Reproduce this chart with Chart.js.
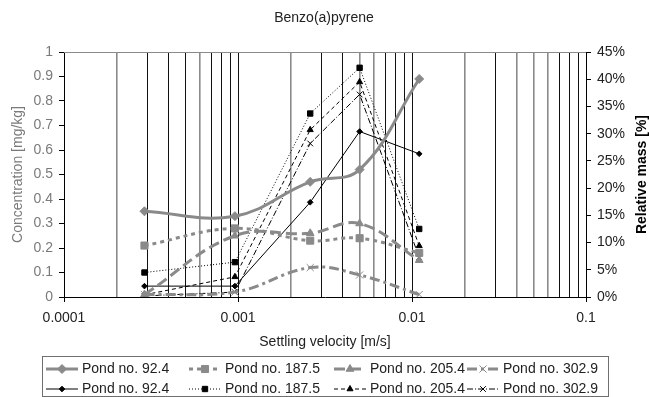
<!DOCTYPE html>
<html>
<head>
<meta charset="utf-8">
<script src="https://cdn.jsdelivr.net/npm/chart.js@4.4.1/dist/chart.umd.min.js"></script>
<style>
  html, body { margin: 0; padding: 0; background: #fff; }
  #wrap { width: 649px; height: 397px; position: relative; }
</style>
</head>
<body>
<div id="wrap"><canvas id="chart"></canvas></div>
<script>
// settling velocity of the fractions [m/s]
const velocity = [0.00029, 0.00096, 0.0026, 0.005, 0.011];
const ponds = ['Pond no. 92.4', 'Pond no. 187.5', 'Pond no. 205.4', 'Pond no. 302.9'];
const xLabels = ['0.0001', '0.001', '0.01', '0.1'];

// concentration [mg/kg] (left axis)
const conc_924  = [0.35, 0.33, 0.47, 0.52, 0.89];
const conc_1875 = [0.21, 0.28, 0.23, 0.24, 0.18];
const conc_2054 = [0.01, 0.25, 0.26, 0.30, 0.15];
const conc_3029 = [0.01, 0.02, 0.12, 0.09, 0.01];

// relative mass [%] (right axis)
const mass_924  = [2.0, 2.0, 17.4, 30.4, 26.3];
const mass_1875 = [4.5, 6.4, 33.7, 42.1, 12.5];
const mass_2054 = [0.4, 3.7, 30.7, 39.5, 9.4];
const mass_3029 = [0.2, 0.9, 28.2, 37.2, 7.3];

const FONT = '"Liberation Sans", Arial, sans-serif';
const GREY = '#8a8a8a';
const greyGrid = [0.0002, 0.0006, 0.002, 0.005, 0.006, 0.02, 0.04, 0.05, 0.06];

function pts(ys) {
  return velocity.map((v, i) => ({x: v, y: ys[i]}));
}
function isDecade(v) {
  const l = Math.log10(v);
  return Math.abs(l - Math.round(l)) < 1e-6;
}
function isGreyLine(v) {
  return greyGrid.some(g => Math.abs(g - v) / g < 1e-6);
}

function greySet(label, ys, style, radius, dash) {
  return {
    label: label, data: pts(ys), yAxisID: 'y',
    borderColor: GREY, backgroundColor: GREY, borderWidth: 3, borderDash: dash,
    pointStyle: style, pointRadius: radius, pointBorderWidth: 1,
    pointBackgroundColor: GREY, pointBorderColor: GREY, tension: 0.4
  };
}
function blackSet(label, ys, style, radius, dash) {
  return {
    label: label, data: pts(ys), yAxisID: 'y2',
    borderColor: '#000', backgroundColor: '#000', borderWidth: 1, borderDash: dash,
    pointStyle: style, pointRadius: radius, pointBorderWidth: 1,
    pointBackgroundColor: '#000', pointBorderColor: '#000', tension: 0
  };
}

const datasets = [
  greySet(ponds[0], conc_924, 'rectRot', 4.5, []),
  greySet(ponds[1], conc_1875, 'rect', 5, [4, 4]),
  greySet(ponds[2], conc_2054, 'triangle', 4.5, [11, 5]),
  greySet(ponds[3], conc_3029, 'crossRot', 5, [10, 4, 3, 4]),
  blackSet(ponds[0], mass_924, 'rectRot', 2.8, []),
  blackSet(ponds[1], mass_1875, 'rect', 3.8, [1, 2]),
  blackSet(ponds[2], mass_2054, 'triangle', 3.5, [4, 3]),
  blackSet(ponds[3], mass_3029, 'crossRot', 4, [6, 2, 1, 2])
];

const decor = {
  id: 'decor',
  beforeDatasetsDraw(chart) {
    const {ctx, chartArea: a} = chart;
    ctx.save();
    ctx.strokeStyle = GREY;
    ctx.lineWidth = 1;
    ctx.beginPath();
    ctx.moveTo(a.left, a.top + 0.5);
    ctx.lineTo(a.right, a.top + 0.5);
    ctx.stroke();
    ctx.restore();
  },
  afterDraw(chart) {
    const {ctx, chartArea: a} = chart;
    ctx.save();
    ctx.textBaseline = 'middle';
    ctx.textAlign = 'center';
    ctx.fillStyle = '#222';
    ctx.font = '14px ' + FONT;
    ctx.fillText('Benzo(a)pyrene', 324, 18);

    ctx.save();
    ctx.translate(642, (a.top + a.bottom) / 2);
    ctx.rotate(-Math.PI / 2);
    ctx.font = 'bold 14px ' + FONT;
    ctx.fillStyle = '#000';
    ctx.fillText('Relative mass [%]', 0, 0);
    ctx.restore();

    // legend
    const colX = [82, 225, 370, 503];
    const rowY = [369, 389];
    ctx.strokeStyle = '#6f6f6f';
    ctx.lineWidth = 1;
    ctx.strokeRect(42.5, 356.5, 566, 40);
    chart.data.datasets.forEach((ds, i) => {
      const tx = colX[i % 4], ty = rowY[Math.floor(i / 4)];
      ctx.save();
      ctx.strokeStyle = ds.borderColor;
      ctx.lineWidth = ds.borderWidth;
      ctx.setLineDash(ds.borderDash);
      ctx.beginPath();
      ctx.moveTo(tx - 36, ty);
      ctx.lineTo(tx - 4, ty);
      ctx.stroke();
      ctx.setLineDash([]);
      ctx.lineWidth = 1;
      ctx.fillStyle = ds.pointBackgroundColor;
      ctx.strokeStyle = ds.pointBorderColor;
      Chart.helpers.drawPoint(ctx, {pointStyle: ds.pointStyle, rotation: 0, radius: ds.pointRadius, borderWidth: 1}, tx - 20, ty);
      ctx.restore();
      ctx.textAlign = 'left';
      ctx.fillStyle = '#222';
      ctx.font = '14px ' + FONT;
      ctx.fillText(ds.label, tx, ty);
    });
    ctx.restore();
  }
};

new Chart(document.getElementById('chart'), {
  type: 'line',
  data: {datasets: datasets},
  plugins: [decor],
  options: {
    responsive: true,
    maintainAspectRatio: false,
    animation: false,
    layout: {padding: {top: 52, bottom: 46, left: 0, right: 0}},
    plugins: {legend: {display: false}, title: {display: false}, tooltip: {enabled: false}},
    scales: {
      x: {
        type: 'logarithmic',
        min: 0.0001, max: 0.1,
        afterBuildTicks(scale) {
          const t = [];
          for (let e = -4; e <= -2; e++) {
            for (let m = 1; m <= 9; m++) {
              t.push({value: parseFloat((m * Math.pow(10, e)).toPrecision(3))});
            }
          }
          t.push({value: 0.1});
          scale.ticks = t;
        },
        afterFit(scale) { scale.height = 54; },
        ticks: {
          autoSkip: false, maxRotation: 0, padding: 8, color: '#222',
          font: {family: FONT, size: 14},
          callback: v => {
            if (!isDecade(v)) return '';
            return xLabels[Math.round(Math.log10(v)) + 4];
          }
        },
        grid: {
          drawTicks: true, tickLength: 5,
          color: c => isGreyLine(c.tick.value) ? GREY : '#111',
          lineWidth: c => isGreyLine(c.tick.value) ? 1.6 : 1,
          tickColor: c => isDecade(c.tick.value) ? '#000' : 'rgba(0,0,0,0)'
        },
        border: {display: true, color: '#000', width: 1},
        title: {display: true, text: 'Settling velocity [m/s]', color: '#222',
                font: {family: FONT, size: 14}, padding: {top: 4, bottom: 0}}
      },
      y: {
        position: 'left', min: 0, max: 1,
        afterFit(scale) { scale.width = 64; },
        ticks: {stepSize: 0.1, padding: 6, color: '#7a7a7a', font: {family: FONT, size: 14},
                callback: v => String(+v.toFixed(1))},
        grid: {drawOnChartArea: false, drawTicks: true, tickLength: 5, color: '#000'},
        border: {display: true, color: '#000', width: 1},
        title: {display: true, text: 'Concentration [mg/kg]', color: '#7a7a7a',
                font: {family: FONT, size: 14}, padding: {top: 10, bottom: 0}}
      },
      y2: {
        position: 'right', min: 0, max: 45,
        afterFit(scale) { scale.width = 63; },
        ticks: {stepSize: 5, padding: 6, color: '#222', font: {family: FONT, size: 14},
                callback: v => v + '%'},
        grid: {drawOnChartArea: false, drawTicks: true, tickLength: 5, color: '#000'},
        border: {display: true, color: '#000', width: 1}
      }
    }
  }
});
</script>
</body>
</html>
